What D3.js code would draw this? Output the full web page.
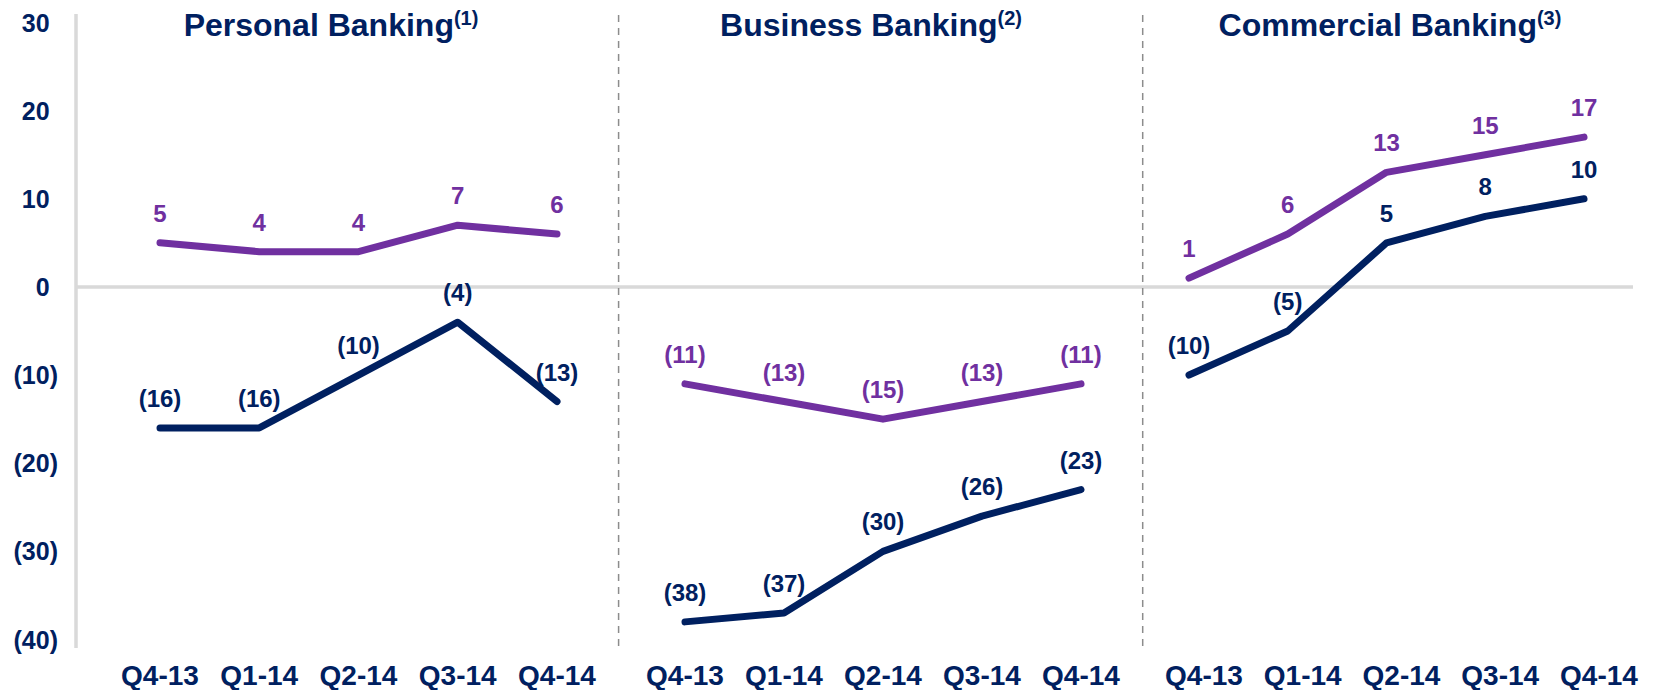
<!DOCTYPE html>
<html>
<head>
<meta charset="utf-8">
<script src="https://cdn.jsdelivr.net/npm/d3@7"></script>
<style>
    body { margin: 0; background: #fff; }
    svg text { font-family: "Liberation Sans", Arial, sans-serif; font-weight: bold; }
</style>
</head>
<body>
<svg id="chart" width="1653" height="690"></svg>
<script>
// data
var quarters = ['Q4-13', 'Q1-14', 'Q2-14', 'Q3-14', 'Q4-14']
var panelTitles = ['Personal Banking', 'Business Banking', 'Commercial Banking']
var panelNotes = ['(1)', '(2)', '(3)']
var purpleValues = [
    [5, 4, 4, 7, 6],
    [-11, -13, -15, -13, -11],
    [1, 6, 13, 15, 17]
]
var navyValues = [
    [-16, -16, -10, -4, -13],
    [-38, -37, -30, -26, -23],
    [-10, -5, 5, 8, 10]
]
var yTicks = [30, 20, 10, 0, -10, -20, -30, -40]

var navy = '#002060'
var purple = '#7030a0'
var grid = '#d9d9d9'

// layout
var panels = [
    {x0: 160, x1: 557, tick: 0, title: 331},
    {x0: 685, x1: 1081, tick: 0, title: 871},
    {x0: 1189, x1: 1584, tick: 15, title: 1390}
]
var dividers = [618.6, 1142.7]

var svg = d3.select('#chart')
var y = d3.scaleLinear().domain([-40, 30]).range([639.5, 22.5])

function fmt(v) {
    return v < 0 ? '(' + Math.abs(v) + ')' : '' + v
}

// y axis labels, accounting style: positives keep room for ')'
var yl = svg.append('g')
yl.selectAll('text')
    .data(yTicks)
    .enter()
    .append('text')
    .attr('x', 58)
    .attr('y', function(d) { return y(d) })
    .attr('dy', '0.36em')
    .attr('text-anchor', 'end')
    .attr('font-size', 25)
    .attr('fill', navy)
    .each(function(d) {
        var t = d3.select(this)
        t.append('tspan').text(fmt(d))
        if (d >= 0) t.append('tspan').attr('fill-opacity', 0).text(')')
    })

// axis line and zero line
svg.append('line')
    .attr('x1', 76).attr('x2', 76)
    .attr('y1', 14).attr('y2', 648)
    .attr('stroke', grid).attr('stroke-width', 3.5)

svg.append('line')
    .attr('x1', 76).attr('x2', 1633)
    .attr('y1', y(0)).attr('y2', y(0))
    .attr('stroke', grid).attr('stroke-width', 3.5)

svg.selectAll('line.divider')
    .data(dividers)
    .enter()
    .append('line')
    .classed('divider', true)
    .attr('x1', function(d) { return d }).attr('x2', function(d) { return d })
    .attr('y1', 15).attr('y2', 648)
    .attr('stroke', '#8c8c8c').attr('stroke-width', 1.5)
    .attr('stroke-dasharray', '7,6')

var line = d3.line()
    .x(function(d) { return d.x })
    .y(function(d) { return d.y })

panels.forEach(function(p, i) {
    var x = d3.scalePoint().domain(quarters).range([p.x0, p.x1])
    var g = svg.append('g')

    // title with superscript note
    var title = g.append('text')
        .attr('x', p.title)
        .attr('y', 36)
        .attr('text-anchor', 'middle')
        .attr('font-size', 32)
        .attr('fill', navy)
    title.append('tspan').text(panelTitles[i])
    title.append('tspan').attr('font-size', 20).attr('dy', -11).text(panelNotes[i])

    // quarter labels
    g.selectAll('text.tick')
        .data(quarters)
        .enter()
        .append('text')
        .classed('tick', true)
        .attr('x', function(d) { return x(d) + p.tick })
        .attr('y', 685)
        .attr('text-anchor', 'middle')
        .attr('font-size', 28)
        .attr('fill', navy)
        .text(function(d) { return d })

    var series = [
        {values: purpleValues[i], color: purple},
        {values: navyValues[i], color: navy}
    ]
    series.forEach(function(s) {
        var pts = s.values.map(function(v, k) {
            return {x: x(quarters[k]), y: y(v), v: v}
        })
        g.append('path')
            .attr('d', line(pts))
            .attr('fill', 'none')
            .attr('stroke', s.color)
            .attr('stroke-width', 7)
            .attr('stroke-linecap', 'round')
            .attr('stroke-linejoin', 'round')

        g.selectAll(null)
            .data(pts)
            .enter()
            .append('text')
            .attr('x', function(d) { return d.x })
            .attr('y', function(d) { return d.y - 21 })
            .attr('text-anchor', 'middle')
            .attr('font-size', 24)
            .attr('fill', s.color)
            .text(function(d) { return fmt(d.v) })
    })
})
</script>
</body>
</html>
